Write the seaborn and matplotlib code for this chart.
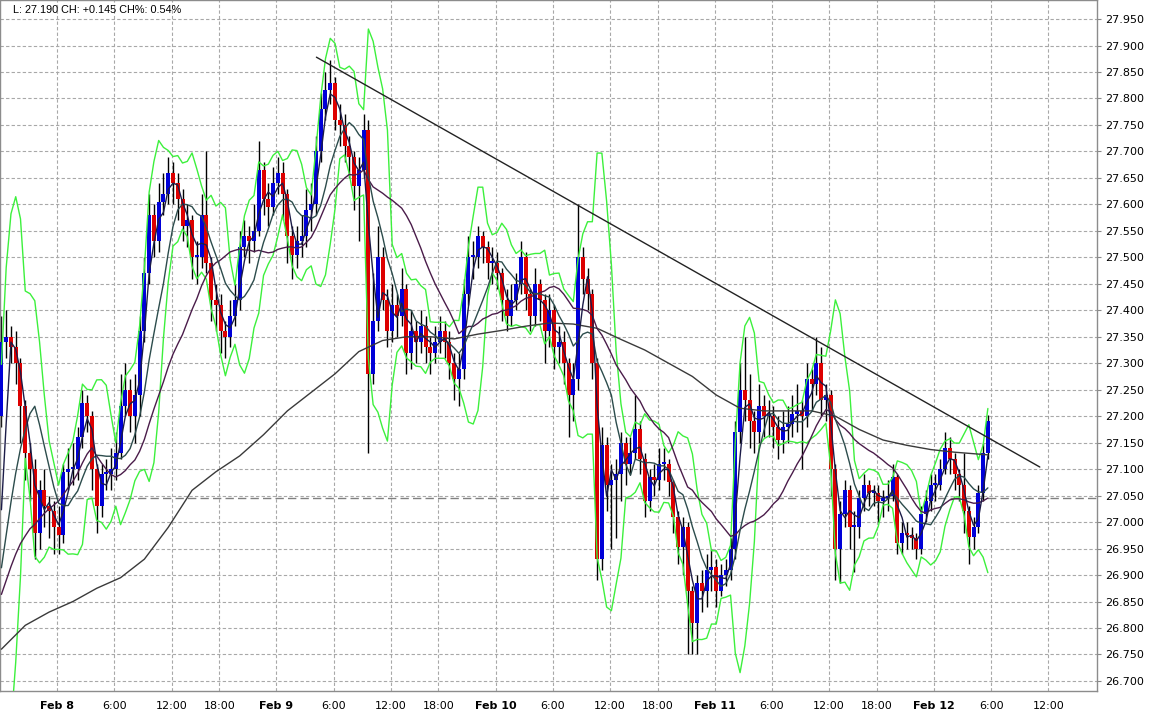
import numpy as np
import pandas as pd
import matplotlib
matplotlib.use("Agg")
import matplotlib.pyplot as plt
import seaborn as sns

# 30 minute bars, trading hours only (Feb 7 18:00 -> Feb 12 05:30)
close = [
    27.34, 27.35, 27.33, 27.30, 27.22, 27.13, 27.10, 26.98, 27.06, 27.03,
    27.02, 26.99, 26.975, 27.095, 27.10, 27.10, 27.16, 27.225, 27.20, 27.10,
    27.03, 27.09, 27.09, 27.10, 27.13, 27.22, 27.25, 27.20, 27.24, 27.36,
    27.47, 27.58, 27.53, 27.605, 27.62, 27.66, 27.64, 27.61, 27.56, 27.57,
    27.50, 27.50, 27.58, 27.49, 27.42, 27.41, 27.36, 27.35, 27.39, 27.42,
    27.52, 27.54, 27.53, 27.55, 27.665, 27.61, 27.595, 27.64, 27.66, 27.62,
    27.54, 27.505, 27.53, 27.54, 27.59, 27.60, 27.70, 27.78, 27.816, 27.83,
    27.76, 27.75, 27.71, 27.69, 27.635, 27.665, 27.74, 27.28, 27.38, 27.50,
    27.42, 27.36, 27.41, 27.39, 27.44, 27.32, 27.36, 27.34, 27.37, 27.33,
    27.32, 27.34, 27.36, 27.34, 27.30, 27.27, 27.29, 27.43, 27.50, 27.50,
    27.54, 27.52, 27.49, 27.49, 27.47, 27.42, 27.39, 27.42, 27.45, 27.50,
    27.43, 27.39, 27.45, 27.42, 27.36, 27.40, 27.33, 27.34, 27.30, 27.24,
    27.27, 27.50, 27.46, 27.43, 27.30, 26.93, 27.146, 27.07, 27.08, 27.09,
    27.15, 27.11, 27.13, 27.175, 27.12, 27.04, 27.085, 27.08, 27.11, 27.11,
    27.076, 27.01, 26.953, 26.99, 26.87, 26.81, 26.885, 26.87, 26.91, 26.915,
    26.87, 26.90, 26.91, 26.95, 27.17, 27.25, 27.23, 27.19, 27.17, 27.22,
    27.20, 27.20, 27.18, 27.155, 27.18, 27.185, 27.205, 27.21, 27.20, 27.27,
    27.26, 27.30, 27.23, 27.24, 27.10, 26.95, 27.015, 27.06, 26.99, 26.99,
    27.045, 27.07, 27.055, 27.055, 27.04, 27.045, 27.05, 27.085, 26.96, 26.98,
    26.975, 26.97, 26.95, 27.015, 27.04, 27.07, 27.07, 27.10, 27.14, 27.12,
    27.09, 27.07, 27.02, 26.972, 26.99, 27.055, 27.13, 27.19,
]
high = [
    27.39, 27.40, 27.37, 27.36, 27.31, 27.23, 27.15, 27.12, 27.08, 27.10,
    27.05, 27.04, 27.03, 27.11, 27.14, 27.15, 27.18, 27.25, 27.24, 27.21,
    27.11, 27.11, 27.12, 27.14, 27.17, 27.28, 27.30, 27.27, 27.28, 27.39,
    27.50, 27.62, 27.60, 27.64, 27.66, 27.69, 27.68, 27.66, 27.63, 27.60,
    27.58, 27.53, 27.62, 27.70, 27.50, 27.45, 27.43, 27.38, 27.42, 27.45,
    27.55, 27.57, 27.56, 27.60, 27.72, 27.68, 27.64, 27.67, 27.69, 27.68,
    27.63, 27.56, 27.56, 27.58, 27.63, 27.64, 27.73, 27.81, 27.85, 27.873,
    27.84, 27.79, 27.77, 27.73, 27.70, 27.69, 27.77, 27.76, 27.47, 27.56,
    27.52, 27.44, 27.45, 27.43, 27.48, 27.45, 27.40, 27.38, 27.40, 27.39,
    27.35, 27.37, 27.39, 27.38, 27.36, 27.32, 27.32, 27.46, 27.54, 27.53,
    27.56, 27.55, 27.53, 27.52, 27.51, 27.48, 27.44, 27.45, 27.47, 27.53,
    27.51, 27.44, 27.48, 27.46, 27.43, 27.43, 27.41, 27.37, 27.36, 27.31,
    27.30, 27.60, 27.52, 27.48, 27.44, 27.31, 27.18, 27.16, 27.11, 27.12,
    27.17, 27.16, 27.16, 27.24, 27.19, 27.13, 27.10, 27.11, 27.14, 27.14,
    27.12, 27.08, 27.02, 27.01, 27.00, 26.88, 26.90, 26.91, 26.94, 26.95,
    26.93, 26.92, 26.93, 26.97, 27.19, 27.30, 27.35, 27.28, 27.21, 27.26,
    27.24, 27.23, 27.22, 27.20, 27.21, 27.22, 27.24, 27.26, 27.23, 27.30,
    27.29, 27.35, 27.33, 27.26, 27.25, 27.11, 27.04, 27.08, 27.07, 27.02,
    27.06, 27.09, 27.08, 27.07, 27.07, 27.06, 27.08, 27.11, 27.09, 27.00,
    27.00, 26.99, 26.98, 27.03, 27.06, 27.09, 27.09, 27.12, 27.17, 27.16,
    27.13, 27.10, 27.13, 27.03, 27.01, 27.07, 27.15, 27.203,
]
low = [
    27.18, 27.31, 27.30, 27.26, 27.15, 27.08, 27.04, 26.93, 26.95, 26.99,
    26.97, 26.94, 26.94, 26.96, 27.06, 27.07, 27.08, 27.14, 27.17, 27.06,
    26.98, 27.01, 27.06, 27.06, 27.08, 27.12, 27.20, 27.17, 27.15, 27.20,
    27.34, 27.45, 27.50, 27.51, 27.58, 27.60, 27.60, 27.57, 27.53, 27.52,
    27.46, 27.45, 27.48, 27.47, 27.38, 27.36, 27.32, 27.31, 27.33, 27.37,
    27.40, 27.50, 27.49, 27.51, 27.54, 27.58, 27.56, 27.58, 27.62, 27.57,
    27.49, 27.46, 27.48, 27.50, 27.52, 27.55, 27.58, 27.68, 27.76, 27.79,
    27.74, 27.71, 27.68, 27.65, 27.59, 27.53, 27.65, 27.13, 27.26, 27.36,
    27.40, 27.33, 27.34, 27.35, 27.37, 27.28, 27.29, 27.30, 27.32, 27.30,
    27.28, 27.30, 27.32, 27.31, 27.27, 27.23, 27.22, 27.27, 27.41, 27.46,
    27.48, 27.49, 27.46, 27.45, 27.44, 27.38, 27.36, 27.37, 27.40, 27.43,
    27.40, 27.36, 27.37, 27.38, 27.30, 27.33, 27.29, 27.30, 27.26, 27.16,
    27.19, 27.25, 27.43, 27.40, 27.27, 26.89, 26.91, 27.02, 26.95, 26.97,
    27.04, 27.07, 27.09, 27.12, 27.09, 27.01, 27.02, 27.05, 27.06, 27.08,
    27.05, 26.98, 26.92, 26.90, 26.75, 26.75, 26.75, 26.83, 26.84, 26.87,
    26.84, 26.86, 26.88, 26.89, 26.93, 27.15, 27.19, 27.14, 27.13, 27.15,
    27.16, 27.16, 27.14, 27.12, 27.13, 27.15, 27.16, 27.17, 27.10, 27.18,
    27.21, 27.24, 27.20, 27.19, 27.05, 26.89, 26.885, 26.99, 26.95, 26.905,
    26.97, 27.02, 27.03, 27.03, 27.00, 27.01, 27.02, 27.04, 26.94, 26.94,
    26.95, 26.95, 26.93, 26.94, 27.00, 27.02, 27.04, 27.06, 27.09, 27.09,
    27.06, 27.04, 26.98, 26.92, 26.95, 26.98, 27.04, 27.12,
]
first_open = 27.20

# closes of the previous session, only used to warm up the indicators
prev_session_close = [
    26.80, 26.82, 26.81, 26.83, 26.82, 26.84, 26.83, 26.82, 26.84, 26.83,
    26.85, 26.84, 26.83, 26.85, 26.84, 26.86, 26.85, 26.84, 26.86, 26.87,
]

# slow moving average, every 5 bars
long_ma_bar = [0, 5, 10, 15, 20, 25, 30, 35, 40, 45, 50, 55, 60, 65, 70, 75, 80, 85, 90, 95,
               100, 105, 110, 115, 120, 125, 130, 135, 140, 145, 150, 155, 160, 165, 170,
               175, 180, 185, 190, 195, 200, 207]
long_ma_value = [26.76, 26.805, 26.83, 26.85, 26.875, 26.895, 26.93, 26.99, 27.06, 27.095,
                 27.125, 27.165, 27.21, 27.245, 27.28, 27.322, 27.343, 27.35, 27.35, 27.346,
                 27.355, 27.362, 27.37, 27.376, 27.374, 27.366, 27.345, 27.325, 27.30, 27.275,
                 27.24, 27.215, 27.21, 27.21, 27.21, 27.20, 27.175, 27.155, 27.145, 27.137,
                 27.132, 27.127]

trend_hours = [33.2, 109.1]
trend_price = [27.878, 27.104]

prev_close = 27.045
last_price = 27.190
change = 0.145
change_pct = 0.54

tick_hours = [6, 12, 18, 23, 29, 35, 41, 46, 52, 58, 64, 69, 75, 81, 87, 92, 98, 104, 110]
tick_labels = ["Feb 8", "6:00", "12:00", "18:00", "Feb 9", "6:00", "12:00", "18:00",
               "Feb 10", "6:00", "12:00", "18:00", "Feb 11", "6:00", "12:00", "18:00",
               "Feb 12", "6:00", "12:00"]

# --- build frame
n = len(close)
df = pd.DataFrame({"close": close, "high": high, "low": low})
df["open"] = [first_open] + close[:-1]
df["t"] = np.arange(n) * 0.5 + 0.15

# indicators from the closes
s = pd.Series(prev_session_close + close)
warm = len(prev_session_close)
df["ma_fast"] = s.rolling(3).mean().iloc[warm:].values
df["ma_mid"] = s.rolling(8).mean().iloc[warm:].values
df["ma_slow"] = s.rolling(20).mean().iloc[warm:].values
bb_mid = s.rolling(6).mean()
bb_std = s.rolling(6).std(ddof=0)
df["bb_up"] = (bb_mid + 2 * bb_std).iloc[warm:].values
df["bb_dn"] = (bb_mid - 2 * bb_std).iloc[warm:].values

long_df = pd.DataFrame({"t": np.array(long_ma_bar) * 0.5 + 0.15, "v": long_ma_value})

# --- figure
sns.set_theme(style="white")
plt.rcParams['font.family'] = ['DejaVu Sans']

W, H = 1150, 717
fig = plt.figure(figsize=(W / 100, H / 100), dpi=100)
ax = fig.add_axes([0, 1 - 691 / H, 1097 / W, 691 / H])
ax.set_facecolor("white")

ax.set_xlim(0, 115.1)
ax.set_ylim(26.681, 27.986)

# grid
grid_kw = dict(color="#a8a8a8", lw=0.8, ls=(0, (3, 2)), zorder=0)
for h in tick_hours:
    ax.axvline(h, **grid_kw)
for k in range(26):
    ax.axhline(26.70 + 0.05 * k, **grid_kw)

# previous close
ax.axhline(prev_close, color="#808080", lw=1.0, ls=(0, (6, 3)), zorder=1)

# candles
up = df["close"] >= df["open"]
body_lo = np.minimum(df["open"], df["close"])
body_h = np.maximum((df["close"] - df["open"]).abs(), 0.004)
ax.vlines(df["t"], df["low"], df["high"], color="black", lw=1.0, zorder=2)
ax.bar(df["t"], body_h, bottom=body_lo, width=0.42,
       color=np.where(up, "#0000d8", "#dd0000"), linewidth=0, zorder=3)

# indicator lines
sns.lineplot(data=df, x="t", y="bb_up", ax=ax, color="#3cf03c", lw=1.0, zorder=4)
sns.lineplot(data=df, x="t", y="bb_dn", ax=ax, color="#3cf03c", lw=1.0, zorder=4)
sns.lineplot(data=long_df, x="t", y="v", ax=ax, color="#3a3a3a", lw=1.0, zorder=4)
sns.lineplot(data=df, x="t", y="ma_slow", ax=ax, color="#4a1c4a", lw=1.0, zorder=5)
sns.lineplot(data=df, x="t", y="ma_mid", ax=ax, color="#2c4c4c", lw=1.0, zorder=5)
sns.lineplot(data=df, x="t", y="ma_fast", ax=ax, color="#1c1c48", lw=1.0, zorder=6)

# trend line
sns.lineplot(x=trend_hours, y=trend_price, ax=ax, color="#222222", lw=1.0, zorder=6)

# axes styling
ax.set_xlabel("")
ax.set_ylabel("")
ax.set_xticks(tick_hours)
ax.set_xticklabels(tick_labels)
for lab in ax.get_xticklabels():
    if lab.get_text().startswith("Feb"):
        lab.set_fontweight("bold")
ax.tick_params(axis="x", length=0, pad=7, labelsize=8, colors="black")

ax.yaxis.tick_right()
ax.set_yticks([26.70 + 0.05 * k for k in range(26)])
ax.set_yticklabels([f"{26.70 + 0.05 * k:.3f}" for k in range(26)])
ax.tick_params(axis="y", length=3, width=0.8, pad=3, labelsize=8,
               colors="black", right=True, left=False)
ax.tick_params(axis="y", color="#888888")

for sp in ax.spines.values():
    sp.set_visible(True)
    sp.set_color("#8c8c8c")
    sp.set_linewidth(1.0)

ax.text(13 / 1097, 1 - 10 / 691,
        f"L: {last_price:.3f} CH: +{change:.3f} CH%: {change_pct:.2f}%",
        transform=ax.transAxes, fontsize=7.8, family=["Liberation Sans", "DejaVu Sans"],
        va="center", ha="left", color="black")

fig.savefig("out.png", dpi=100)
